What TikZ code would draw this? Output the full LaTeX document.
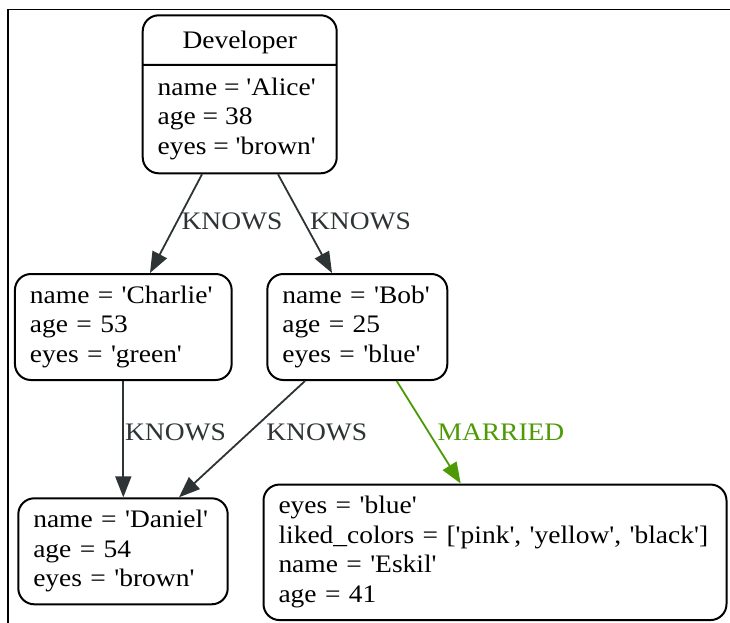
\documentclass[tikz,border=0pt]{standalone}
\usepackage{fontspec}
\setmainfont{Liberation Serif}[FakeStretch=1.09, Ligatures=TeXOff]
\usetikzlibrary{arrows.meta,shapes.multipart}
\definecolor{edgegray}{HTML}{2E3436}
\definecolor{marriedgreen}{HTML}{4E9A06}
% one attribute per row, rows 29.5pt apart
\newcommand{\attrs}[1]{\begin{tabular}{@{}l@{}}#1\end{tabular}}

\begin{document}
\begin{tikzpicture}[x=1pt,y=-1pt,
  every node/.style={font=\fontsize{25.2}{29.5}\selectfont},
  entity/.style={draw, line width=2pt, rounded corners=16pt,
    inner xsep=15pt, inner ysep=0pt, align=left},
  rel/.style={line width=1.8pt, draw=edgegray,
    -{Triangle[length=21pt,width=16pt]}, fill=edgegray},
  married/.style={rel, draw=marriedgreen, fill=marriedgreen},
  rellabel/.style={anchor=base, inner sep=0pt, text=edgegray},
  marriedlabel/.style={rellabel, text=marriedgreen}]

\useasboundingbox (0,0) rectangle (730,623);
\fill[white] (0,0) rectangle (730,623);

% frame
\draw[line width=1.8pt] (730,9.5) -- (8,9.5) -- (8,623);

% entities
\node[entity, rectangle split, rectangle split parts=2,
      rectangle split part align={center,left},
      minimum width=194pt, inner ysep=9pt] (dev) at (239.7,94.3)
  {\rule[-5.85pt]{0pt}{29.5pt}Developer
   \nodepart{two}\attrs{name = 'Alice'\\ age = 38\\ eyes = 'brown'}};

\node[entity, text width=186.7pt, minimum height=106pt] (charlie) at (123.3,327)
  {\attrs{name = 'Charlie'\\ age = 53\\ eyes = 'green'}};

\node[entity, text width=150pt, minimum height=106pt] (bob) at (357.3,327)
  {\attrs{name = 'Bob'\\ age = 25\\ eyes = 'blue'}};

\node[entity, text width=179.4pt, minimum height=106pt] (daniel) at (123,551.3)
  {\attrs{name = 'Daniel'\\ age = 54\\ eyes = 'brown'}};

\node[entity, text width=433pt, minimum height=135.5pt] (eskil) at (495,552.3)
  {\attrs{eyes = 'blue'\\ liked\_colors = ['pink', 'yellow', 'black']\\ name = 'Eskil'\\ age = 41}};

% relationships
\draw[rel] ([xshift=-37.7pt]dev.south) -- ([xshift=26.7pt]charlie.north);
\draw[rel] ([xshift=38.3pt]dev.south) -- ([xshift=-25.3pt]bob.north);
\draw[rel] (charlie.south) -- (charlie.south |- daniel.north);
\draw[rel] ([xshift=-52.3pt]bob.south) -- ([xshift=56pt]daniel.north);
\draw[married] ([xshift=39.4pt]bob.south) -- ([xshift=-34.3pt]eskil.north);

% relationship labels
\node[rellabel] (l1) at (232,229.3) {KNOWS};
\node[rellabel] (l2) at (360.5,229.3) {KNOWS};
\node[rellabel] (l3) at (175.5,440) {KNOWS};
\node[rellabel] (l4) at (316.7,440) {KNOWS};
\node[marriedlabel] (l5) at (501,440) {MARRIED};
\end{tikzpicture}
\end{document}
